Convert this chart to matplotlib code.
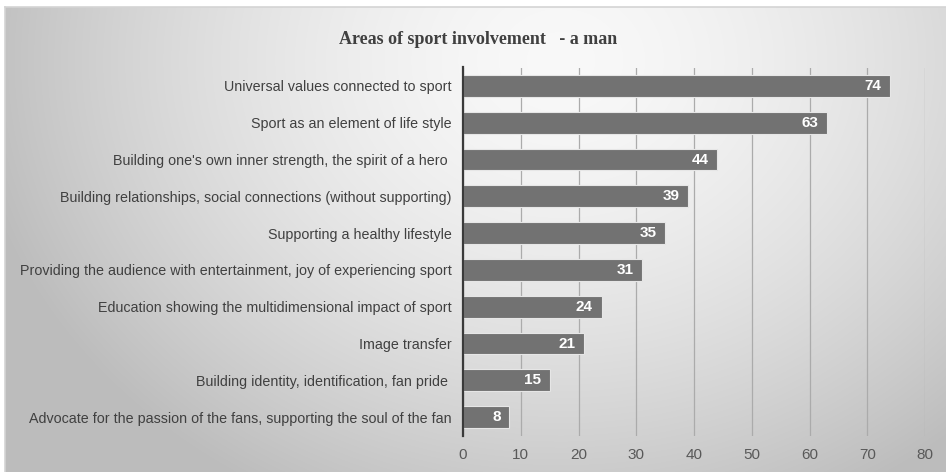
import matplotlib
matplotlib.use("Agg")

import numpy as np
import matplotlib.pyplot as plt
from matplotlib.patches import Rectangle

# ── Data ─────────────────────────────────────────────────────────────────────
CATEGORIES = [
    "Universal values connected to sport",
    "Sport as an element of life style",
    "Building one's own inner strength, the spirit of a hero ",
    "Building relationships, social connections (without supporting)",
    "Supporting a healthy lifestyle",
    "Providing the audience with entertainment, joy of experiencing sport",
    "Education showing the multidimensional impact of sport",
    "Image transfer",
    "Building identity, identification, fan pride ",
    "Advocate for the passion of the fans, supporting the soul of the fan",
]
VALUES = [74, 63, 44, 39, 35, 31, 24, 21, 15, 8]
XTICKS = [0, 10, 20, 30, 40, 50, 60, 70, 80]
TITLE = "Areas of sport involvement   - a man"

# ── Style ────────────────────────────────────────────────────────────────────
BAR_COLOR  = "#727272"
TEXT_COLOR = "#404040"
TICK_COLOR = "#595959"
GRID_COLOR = "#ababab"

W, H = 946, 472
fig = plt.figure(figsize=(W / 100, H / 100), dpi=100)

# radial grey background, brightest near the upper middle
bg = fig.add_axes([0, 0, 1, 1], zorder=0)
bg.set_axis_off()
yy, xx = np.mgrid[0:H, 0:W]
r = np.sqrt(((xx - 560) / 600.0) ** 2 + ((yy - 60) / 500.0) ** 2)
shade = np.clip(0.975 - 0.24 * r ** 1.6, 0.74, 1.0)
img = np.dstack([shade] * 3)
bg.imshow(img, extent=(0, W, H, 0), aspect="auto")
bg.set_xlim(0, W)
bg.set_ylim(H, 0)
# white margin above / left of the chart frame
bg.add_patch(Rectangle((0, 0), W, 7, color="white", lw=0))
bg.add_patch(Rectangle((0, 0), 5, H, color="white", lw=0))
bg.plot([5, W], [7, 7], color="#d4d4d4", lw=1.2)
bg.plot([5, 5], [7, H], color="#d4d4d4", lw=1.2)

# ── Bars ─────────────────────────────────────────────────────────────────────
ax = fig.add_axes([463 / W, 1 - 435.5 / H, (925 - 463) / W, (435.5 - 67.5) / H],
                  zorder=1)
ax.patch.set_alpha(0)

ypos = np.arange(len(CATEGORIES))
ax.barh(ypos, VALUES, height=0.59, color=BAR_COLOR,
        edgecolor="#e6e6e6", linewidth=0.8, zorder=3)
for y, v in zip(ypos, VALUES):
    ax.text(v - 1.5, y, str(v), ha="right", va="center", color="white",
            fontsize=11, fontweight="bold", family="Liberation Sans", zorder=4)

ax.set_ylim(len(CATEGORIES) - 0.5, -0.5)
ax.set_xlim(0, 80)
ax.set_xticks(XTICKS)
ax.set_yticks(ypos)
ax.set_yticklabels(CATEGORIES, fontsize=10.3, color=TEXT_COLOR,
                   family="Liberation Sans")
ax.tick_params(axis="y", length=0, pad=8)
ax.tick_params(axis="x", length=0, pad=9, labelsize=11, labelcolor=TICK_COLOR)
for lbl in ax.get_xticklabels():
    lbl.set_family("Liberation Sans")

ax.xaxis.grid(True, color=GRID_COLOR, linewidth=0.9, zorder=0)
ax.set_axisbelow(True)
for s in ("top", "right", "bottom"):
    ax.spines[s].set_visible(False)
ax.spines["left"].set_color("#3a3a3a")
ax.spines["left"].set_linewidth(1.6)
ax.spines["left"].set_zorder(5)

fig.text(478 / W, 1 - 40 / H, TITLE, ha="center", va="center",
         fontsize=13, fontweight="bold", color=TEXT_COLOR,
         family="Liberation Serif")

fig.savefig("out.png", dpi=100)
plt.close(fig)
